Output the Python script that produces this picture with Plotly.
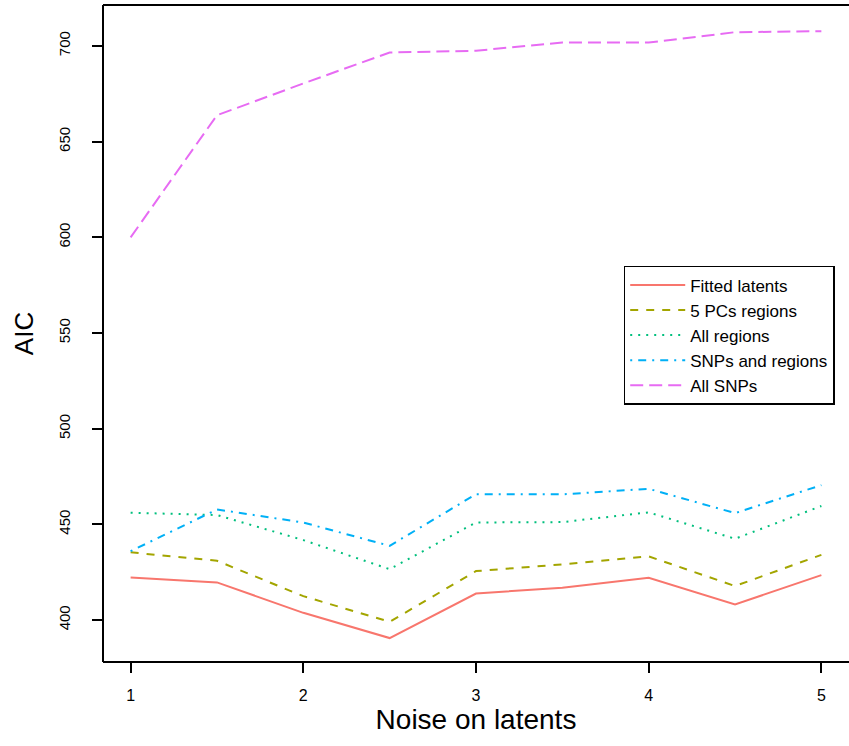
import plotly.graph_objects as go

noise = [1, 1.5, 2, 2.5, 3, 3.5, 4, 4.5, 5]
fitted_latents = [422.3, 419.7, 403.8, 390.6, 413.9, 416.9, 422.1, 408.2, 423.5]
pcs5_regions = [435.4, 431.0, 412.5, 399.1, 425.6, 429.1, 433.3, 417.8, 434.1]
all_regions = [456.1, 454.9, 441.8, 426.6, 451.0, 451.2, 456.3, 442.5, 459.6]
snps_and_regions = [436.0, 457.8, 451.0, 438.8, 465.8, 465.7, 468.6, 455.9, 470.5]
all_snps = [600.0, 663.8, 680.4, 696.6, 697.5, 701.8, 701.8, 707.2, 707.7]

series_names = ["Fitted latents", "5 PCs regions", "All regions", "SNPs and regions", "All SNPs"]
series_values = [fitted_latents, pcs5_regions, all_regions, snps_and_regions, all_snps]
colors = ["#F8766D", "#A3A500", "#00BF7D", "#00B0F6", "#E76BF3"]
dashes = ["solid", "8px,8px", "2px,6px", "2px,6px,8px,6px", "13px,6px"]

x_ticks = [1, 2, 3, 4, 5]
y_ticks = [400, 450, 500, 550, 600, 650, 700]

fig = go.Figure()
for name, vals, c, d in zip(series_names, series_values, colors, dashes):
    fig.add_trace(go.Scatter(x=noise, y=vals, mode="lines", name=name,
                             line=dict(color=c, width=2, dash=d)))

# frame: bottom, top, left (right side lies beyond the picture)
for x0, y0, x1, y1 in [(0, 0, 1.02, 0), (0, 1, 1.02, 1), (0, 0, 0, 1)]:
    fig.add_shape(type="line", xref="paper", yref="paper", x0=x0, y0=y0, x1=x1, y1=y1,
                  line=dict(color="black", width=2), layer="above")

font = "Liberation Sans, Arial, sans-serif"
fig.update_layout(
    width=849, height=746,
    margin=dict(l=103, r=0, t=5, b=84),
    paper_bgcolor="white", plot_bgcolor="white",
    font=dict(family=font, color="black"),
    showlegend=True,
    legend=dict(x=0.698, y=0.603, xanchor="left", yanchor="top",
                bgcolor="white", bordercolor="black", borderwidth=1.5,
                font=dict(size=17, family=font), itemwidth=55,
                tracegroupgap=0),
    xaxis=dict(range=[0.84, 5.16], tickvals=x_ticks, ticks="outside", ticklen=10,
               tickwidth=1.5, tickcolor="black", showgrid=False, zeroline=False,
               showline=False, automargin=False,
               tickfont=dict(size=16), ticklabelstandoff=9,
               title=dict(text="Noise on latents", font=dict(size=28), standoff=3)),
    yaxis=dict(range=[378.1, 721.4], tickvals=y_ticks, ticks="outside", ticklen=10,
               tickwidth=1.5, tickcolor="black", showgrid=False, zeroline=False,
               showline=False, automargin=False,
               tickangle=-90, tickfont=dict(size=15), ticklabelstandoff=16,
               title=dict(text="AIC", font=dict(size=26), standoff=14)),
)

fig.write_html("out.html", config={"displayModeBar": False},
               post_script="document.body.style.margin='0';"
                           "document.body.style.overflow='hidden';"
                           "document.documentElement.style.overflow='hidden';")
